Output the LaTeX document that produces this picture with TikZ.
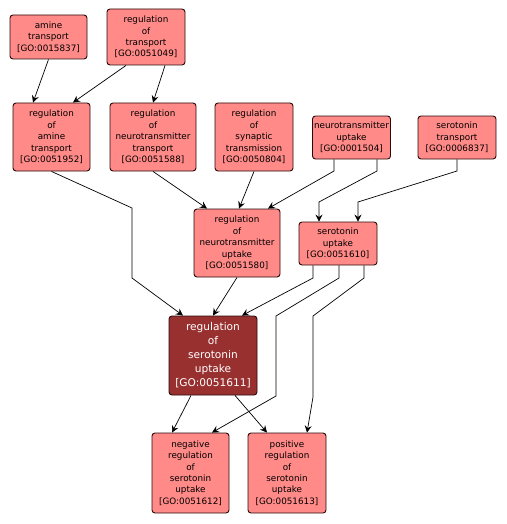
\documentclass[tikz,border=0pt]{standalone}
\usepackage{fontspec}
\setmainfont{DejaVu Sans}
\usetikzlibrary{arrows.meta}
\definecolor{lightnode}{RGB}{255,138,136}
\definecolor{darknode}{RGB}{153,48,48}
\definecolor{edgeline}{RGB}{40,10,10}
\newcommand{\goid}[1]{{[GO:#1]}}
\begin{document}
\begin{tikzpicture}[x=1pt,y=-1pt,
  gobox/.style={draw=edgeline, line width=0.9pt, rounded corners=3pt, fill=lightnode,
    align=center, inner sep=0pt, font=\fontsize{8.8}{11.4}\selectfont, text=black},
  mainbox/.style={gobox, fill=darknode, text=white, font=\fontsize{10.6}{14}\selectfont},
  arr/.style={draw=black, line width=0.7pt, -{Stealth[length=7pt,width=7pt,inset=2.5pt]}}]
\useasboundingbox (0,0) rectangle (506,524);
\node[gobox, minimum width=77pt, minimum height=44pt] (A) at (48.5,37) {amine\\transport\\\goid{0015837}};
\node[gobox, minimum width=78pt, minimum height=56pt] (B) at (146,37) {regulation\\of\\transport\\\goid{0051049}};
\node[gobox, minimum width=77pt, minimum height=68pt] (C) at (51.5,137) {regulation\\of\\amine\\transport\\\goid{0051952}};
\node[gobox, minimum width=86pt, minimum height=68pt] (D) at (153,137) {regulation\\of\\neurotransmitter\\transport\\\goid{0051588}};
\node[gobox, minimum width=78pt, minimum height=68pt] (E) at (254,137) {regulation\\of\\synaptic\\transmission\\\goid{0050804}};
\node[gobox, minimum width=78pt, minimum height=43pt] (F) at (351.5,137.5) {neurotransmitter\\uptake\\\goid{0001504}};
\node[gobox, minimum width=78pt, minimum height=43pt] (G) at (457,137.5) {serotonin\\transport\\\goid{0006837}};
\node[gobox, minimum width=86pt, minimum height=68pt] (H) at (237,243) {regulation\\of\\neurotransmitter\\uptake\\\goid{0051580}};
\node[gobox, minimum width=78pt, minimum height=43pt] (I) at (338,243.5) {serotonin\\uptake\\\goid{0051610}};
\node[mainbox, minimum width=88pt, minimum height=79pt] (J) at (213,355.5) {regulation\\of\\serotonin\\uptake\\\goid{0051611}};
\node[gobox, minimum width=77pt, minimum height=80pt] (K) at (190.5,473) {negative\\regulation\\of\\serotonin\\uptake\\\goid{0051612}};
\node[gobox, minimum width=78pt, minimum height=80pt] (L) at (287,473) {positive\\regulation\\of\\serotonin\\uptake\\\goid{0051613}};

\draw[arr] (A.south) -- ([xshift=-18.5pt]C.north);
\draw[arr] ([xshift=-20pt]B.south) -- ([xshift=21.5pt]C.north);
\draw[arr] ([xshift=19pt]B.south) -- (D.north);
\draw[arr] (C.south) -- (132,208) -- (132,278) -- ([xshift=-30pt]J.north);
\draw[arr] (D.south) -- ([xshift=-30pt]H.north);
\draw[arr] (E.south) -- ([xshift=2pt]H.north);
\draw[arr] ([xshift=-17.5pt]F.south) -- (334,171) -- ([xshift=31pt]H.north);
\draw[arr] ([xshift=25.5pt]F.south) -- (377,171) -- (319,202) -- ([xshift=-19pt]I.north);
\draw[arr] (G.south) -- (457,171) -- (358,202) -- ([xshift=20pt]I.north);
\draw[arr] (H.south) -- (J.north);
\draw[arr] ([xshift=-25pt]I.south) -- (313,278) -- ([xshift=29pt]J.north);
\draw[arr] ([xshift=1pt]I.south) -- (339,278) -- (276,316) -- (276,396) -- ([xshift=21.5pt]K.north);
\draw[arr] ([xshift=26pt]I.south) -- (364,278) -- (313,316) -- (313,397) -- ([xshift=20pt]L.north);
\draw[arr] ([xshift=-22pt]J.south) -- ([xshift=-18.5pt]K.north);
\draw[arr] ([xshift=22pt]J.south) -- ([xshift=-20pt]L.north);
\end{tikzpicture}
\end{document}
